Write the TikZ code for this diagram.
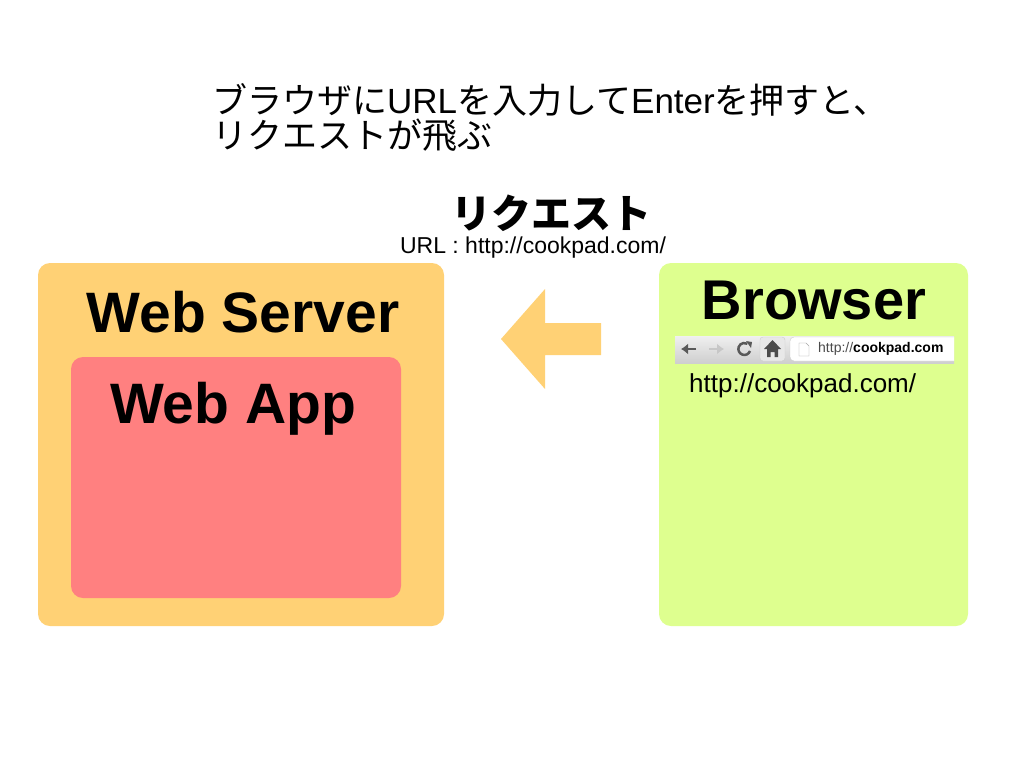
\documentclass[tikz,border=0pt]{standalone}
\usepackage{fontspec}
\setmainfont{Liberation Sans}
\newfontfamily\cjk{Noto Sans CJK JP}
\usetikzlibrary{arrows.meta}
\definecolor{serverorange}{HTML}{FFD175}
\definecolor{apppink}{HTML}{FF8080}
\definecolor{browsergreen}{HTML}{DEFF8F}
\tikzset{
  panel/.style={rounded corners=12pt},
  heading/.style={font=\fontsize{57}{60}\selectfont\bfseries, inner sep=0pt},
  caption/.style={font=\fontsize{35}{35}\selectfont, inner sep=0pt, align=left},
  urltext/.style={font=\fontsize{23}{26}\selectfont, inner sep=0pt}
}
\begin{document}
\begin{tikzpicture}[x=1pt,y=-1pt]
  \useasboundingbox (0,0) rectangle (1024,768);
  \fill [white] (0,0) rectangle (1024,768);

  \node [caption, anchor=north west] (intro) at (212,83) {{\cjk ブラウザに}URL{\cjk を入力して}Enter{\cjk を押すと、}\\{\cjk リクエストが飛ぶ}};

  \node [font=\cjk\fontsize{40}{44}\selectfont\bfseries, inner sep=0pt] (request) at (551,213) {リクエスト};
  \node [urltext] (requrl) at (533,248) {URL : http://cookpad.com/};

  % server side
  \fill [serverorange, panel] (38,263) rectangle (444,626);
  \node [heading] (server) at (243,312) {Web Server};
  \fill [apppink, panel] (71,357) rectangle (401,598);
  \node [heading] (app) at (233,409) {Web App};

  % arrow
  \fill [serverorange] (501,339) -- (545,289) -- (545,323) -- (601,323) -- (601,355) -- (545,355) -- (545,389) -- cycle;

  % browser side
  \fill [browsergreen, panel] (659,263) rectangle (968,626);
  \node [heading, font=\fontsize{56}{60}\selectfont\bfseries] (browser) at (814,301) {Browser};

  % toolbar
  \shade [top color=gray!12, bottom color=gray!38] (675,336) rectangle (954,363);
  \draw [line width=2.5pt, black!65, -{Latex[length=7pt,width=11pt]}] (696,349) -- (681,349);
  \draw [line width=2.5pt, black!22, -{Latex[length=7pt,width=11pt]}] (709,349) -- (724,349);
  \draw [line width=2.5pt, black!65] (750,351) arc (20:300:6);
  \fill [black!65] (746,341) -- (752,342) -- (751,348) -- cycle;
  \draw [rounded corners=3pt, fill=gray!18, draw=gray!40] (760,337) rectangle (785,361);
  \fill [black!70] (772.5,340) -- (781,349) -- (778,349) -- (778,357) -- (774.5,357) -- (774.5,352) -- (770.5,352) -- (770.5,357) -- (767,357) -- (767,349) -- (764,349) -- cycle;
  \draw [rounded corners=4pt, fill=white, draw=gray!40] (954,337) -- (790,337) -- (790,361) -- (954,361);
  \draw [gray!70, fill=white] (799,343) -- (806,343) -- (809,346) -- (809,356) -- (799,356) -- cycle;
  \node [font=\fontsize{14}{16}\selectfont, inner sep=0pt, anchor=west] (barurl) at (818,349) {\textcolor{black!70}{http://}\textbf{cookpad.com}};

  \node [font=\fontsize{26}{28}\selectfont, inner sep=0pt, anchor=west] (pageurl) at (689,386) {http://cookpad.com/};
\end{tikzpicture}
\end{document}
